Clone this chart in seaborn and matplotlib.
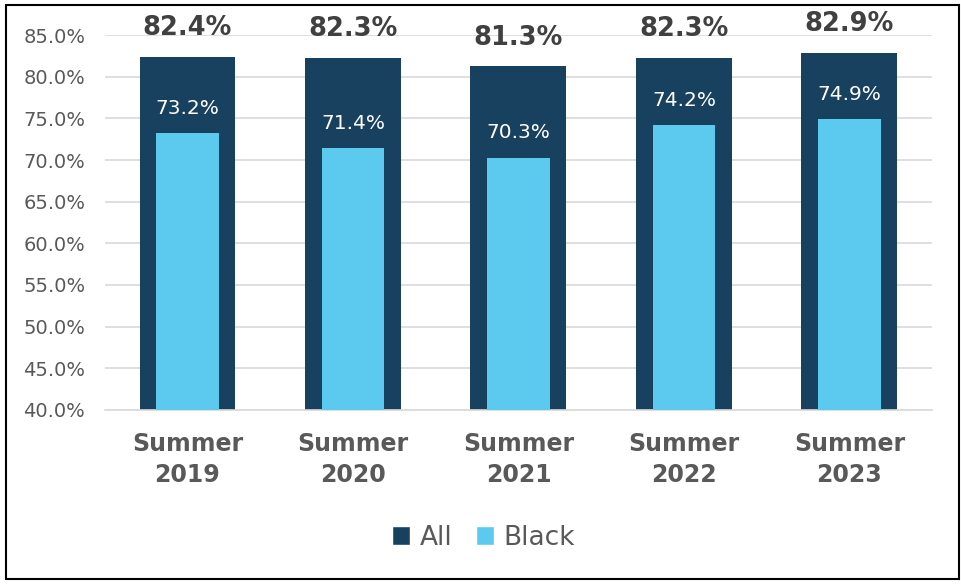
import matplotlib
matplotlib.use("Agg")
import matplotlib.pyplot as plt
import seaborn as sns
import pandas as pd
from matplotlib.patches import Rectangle, Patch
from matplotlib.ticker import FixedLocator, FuncFormatter

# data
categories = ["Summer\n2019", "Summer\n2020", "Summer\n2021", "Summer\n2022", "Summer\n2023"]
all_vals = [82.4, 82.3, 81.3, 82.3, 82.9]
black_vals = [73.2, 71.4, 70.3, 74.2, 74.9]

navy = "#17415F"
light = "#5BCAEE"
grey = "#595959"

sns.set_style("white")
plt.rcParams['font.family'] = ['DejaVu Sans']

df = pd.DataFrame({"cat": categories, "All": all_vals, "Black": black_vals})

fig = plt.figure(figsize=(9.61, 5.84), dpi=100)
ax = fig.add_axes([0.109, 0.298, 0.861, 0.642])

sns.barplot(data=df, x="cat", y="All", color=navy, width=0.58, saturation=1,
            linewidth=0, ax=ax, zorder=2)
sns.barplot(data=df, x="cat", y="Black", color=light, width=0.376, saturation=1,
            linewidth=0, ax=ax, zorder=3)

ax.set_ylim(40, 85)
ax.set_xlim(-0.5, 4.5)
ax.set_yticks([40 + 5 * i for i in range(10)])
ax.yaxis.set_major_formatter(FuncFormatter(lambda v, p: f"{v:.1f}%"))
ax.grid(axis="y", color="#D9D9D9", linewidth=1.2, zorder=0)
ax.set_axisbelow(True)
ax.set_xlabel("")
ax.set_ylabel("")

for s in ["top", "right", "left"]:
    ax.spines[s].set_visible(False)
ax.spines["bottom"].set_color("#D9D9D9")
ax.spines["bottom"].set_linewidth(1.2)

ax.tick_params(axis="y", labelsize=14, labelcolor=grey, length=0, pad=14)
ax.tick_params(axis="x", which="major", labelsize=17, labelcolor=grey, length=0, pad=16)
for t in ax.get_xticklabels():
    t.set_fontweight("bold")
    t.set_linespacing(1.35)
ax.xaxis.set_minor_locator(FixedLocator([i - 0.5 for i in range(6)]))
ax.tick_params(axis="x", which="minor", length=8, color="#D9D9D9", width=1.2)

for i, (a, b) in enumerate(zip(all_vals, black_vals)):
    ax.text(i, a + 3.4, f"{a:.1f}%", ha="center", va="center", fontsize=18.5,
            fontweight="bold", color="#404040", zorder=5)
    ax.text(i, b + 3.0, f"{b:.1f}%", ha="center", va="center", fontsize=14.5,
            color="white", zorder=5)

handles = [Patch(facecolor=navy, label="All"), Patch(facecolor=light, label="Black")]
fig.legend(handles=handles, loc="center", bbox_to_anchor=(0.503, 0.079), ncol=2,
           frameon=False, fontsize=19, handlelength=0.7, handleheight=0.7,
           handletextpad=0.35, columnspacing=0.9, labelcolor=grey)

fig.patches.append(Rectangle((0.006, 0.008), 0.992, 0.983, transform=fig.transFigure,
                             fill=False, edgecolor="black", linewidth=1.5))

fig.savefig("out.png", dpi=100)
